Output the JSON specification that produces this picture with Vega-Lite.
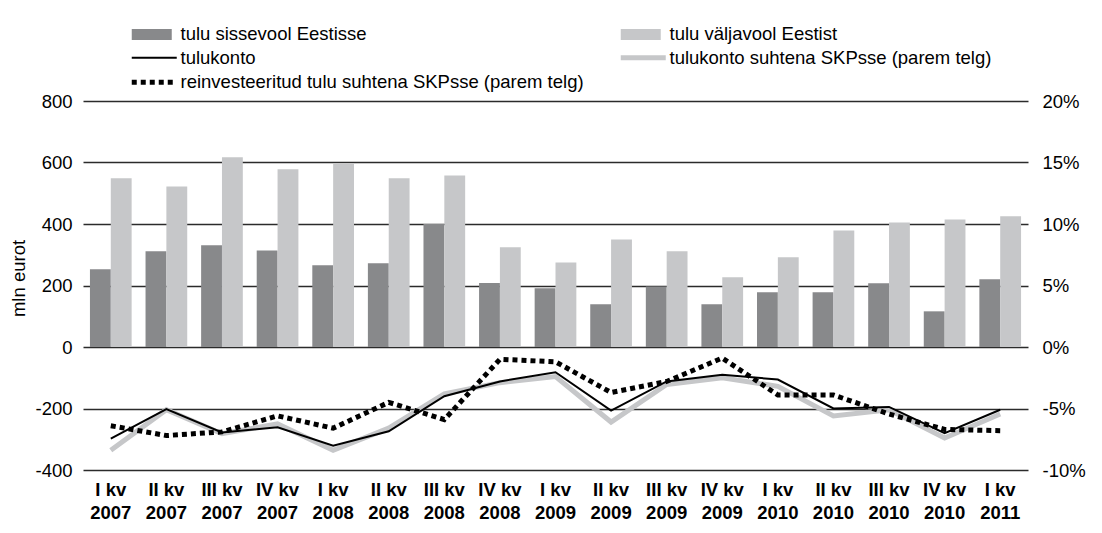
{
  "$schema": "https://vega.github.io/schema/vega-lite/v6.json",
  "autosize": {"type": "none"},
  "width": 945,
  "height": 369,
  "padding": {"left": 83, "top": 101, "right": 74, "bottom": 63},
  "background": "white",
  "config": {
    "view": {"stroke": null},
    "font": "Liberation Sans",
    "axis": {"labelFont": "Liberation Sans", "titleFont": "Liberation Sans", "labelColor": "#000000", "titleColor": "#000000"}
  },
  "data": {
    "values": [
      {"kvartal": "I kv 2007", "sissevool": 253, "valjavool": 549, "tulukonto": -298, "tulukonto_skp": -8.4, "reinv_skp": -6.4},
      {"kvartal": "II kv 2007", "sissevool": 311, "valjavool": 522, "tulukonto": -202, "tulukonto_skp": -5.1, "reinv_skp": -7.2},
      {"kvartal": "III kv 2007", "sissevool": 331, "valjavool": 617, "tulukonto": -278, "tulukonto_skp": -7.05, "reinv_skp": -6.9},
      {"kvartal": "IV kv 2007", "sissevool": 314, "valjavool": 578, "tulukonto": -261, "tulukonto_skp": -6.25, "reinv_skp": -5.6},
      {"kvartal": "I kv 2008", "sissevool": 266, "valjavool": 596, "tulukonto": -321, "tulukonto_skp": -8.4, "reinv_skp": -6.6},
      {"kvartal": "II kv 2008", "sissevool": 272, "valjavool": 549, "tulukonto": -274, "tulukonto_skp": -6.6, "reinv_skp": -4.5},
      {"kvartal": "III kv 2008", "sissevool": 400, "valjavool": 558, "tulukonto": -160, "tulukonto_skp": -3.8, "reinv_skp": -5.9},
      {"kvartal": "IV kv 2008", "sissevool": 208, "valjavool": 324, "tulukonto": -112, "tulukonto_skp": -2.9, "reinv_skp": -1.0},
      {"kvartal": "I kv 2009", "sissevool": 191, "valjavool": 275, "tulukonto": -82, "tulukonto_skp": -2.4, "reinv_skp": -1.2},
      {"kvartal": "II kv 2009", "sissevool": 139, "valjavool": 350, "tulukonto": -207, "tulukonto_skp": -6.1, "reinv_skp": -3.7},
      {"kvartal": "III kv 2009", "sissevool": 197, "valjavool": 311, "tulukonto": -112, "tulukonto_skp": -3.05, "reinv_skp": -2.8},
      {"kvartal": "IV kv 2009", "sissevool": 139, "valjavool": 227, "tulukonto": -90, "tulukonto_skp": -2.5, "reinv_skp": -0.9},
      {"kvartal": "I kv 2010", "sissevool": 178, "valjavool": 292, "tulukonto": -106, "tulukonto_skp": -3.2, "reinv_skp": -3.9},
      {"kvartal": "II kv 2010", "sissevool": 178, "valjavool": 379, "tulukonto": -200, "tulukonto_skp": -5.6, "reinv_skp": -3.9},
      {"kvartal": "III kv 2010", "sissevool": 207, "valjavool": 405, "tulukonto": -195, "tulukonto_skp": -5.1, "reinv_skp": -5.45},
      {"kvartal": "IV kv 2010", "sissevool": 116, "valjavool": 415, "tulukonto": -280, "tulukonto_skp": -7.4, "reinv_skp": -6.7},
      {"kvartal": "I kv 2011", "sissevool": 220, "valjavool": 425, "tulukonto": -204, "tulukonto_skp": -5.45, "reinv_skp": -6.8}
    ]
  },
  "encoding": {
    "x": {
      "field": "kvartal",
      "type": "nominal",
      "sort": null,
      "scale": {"paddingInner": 0.25, "paddingOuter": 0.125},
      "axis": {
        "title": null,
        "domain": false,
        "ticks": false,
        "labelAngle": 0,
        "labelFontSize": 18.5,
        "labelFontWeight": "bold",
        "labelLineHeight": 23,
        "labelBaseline": "top",
        "labelPadding": 10,
        "labelExpr": "[substring(datum.label, 0, length(datum.label) - 5), substring(datum.label, length(datum.label) - 4)]"
      }
    }
  },
  "layer": [
    {
      "transform": [{"fold": ["sissevool", "valjavool"], "as": ["seeria", "vaartus"]}],
      "mark": {"type": "bar"},
      "encoding": {
        "xOffset": {"field": "seeria", "type": "nominal", "scale": {"domain": ["sissevool", "valjavool"], "paddingInner": 0, "paddingOuter": 0}},
        "y": {
          "field": "vaartus",
          "type": "quantitative",
          "scale": {"domain": [-400, 800], "nice": false, "zero": false},
          "axis": {
            "orient": "left",
            "values": [-400, -200, 0, 200, 400, 600, 800],
            "labelExpr": "'' + datum.value",
            "grid": true,
            "gridColor": "#2b2b2b",
            "gridWidth": 1.4,
            "domain": false,
            "ticks": false,
            "labelFontSize": 18.5,
            "labelPadding": 11,
            "title": "mln eurot",
            "titleFontSize": 18.5,
            "titleFontWeight": "normal",
            "titlePadding": 6,
            "titleY": 177
          }
        },
        "color": {
          "field": "seeria",
          "type": "nominal",
          "scale": {
            "domain": ["sissevool", "tulukonto", "reinv_skp", "valjavool", "tulukonto_skp"],
            "range": ["#88898b", "#000000", "#000000", "#c6c7c9", "#c6c7c9"]
          },
          "legend": {
            "orient": "none",
            "legendX": 49,
            "legendY": -76,
            "title": null,
            "columns": 2,
            "columnPadding": 26,
            "rowPadding": 3.5,
            "padding": 0,
            "symbolSize": 100,
            "symbolOffset": 13,
            "labelOffset": 17,
            "labelFont": "Liberation Sans",
            "labelFontSize": 18.5,
            "labelColor": "#000000",
            "labelLimit": 600,
            "labelExpr": "datum.value === 'sissevool' ? 'tulu sissevool Eestisse' : datum.value === 'valjavool' ? 'tulu väljavool Eestist' : datum.value === 'tulukonto' ? 'tulukonto' : datum.value === 'tulukonto_skp' ? 'tulukonto suhtena SKPsse (parem telg)' : 'reinvesteeritud tulu suhtena SKPsse (parem telg)'",
            "encode": {
              "symbols": {
                "update": {
                  "shape": {"signal": "(datum.value === 'sissevool' || datum.value === 'valjavool') ? 'M-4.5,-1.1H3.5V1.1H-4.5Z' : 'M-4.5,0H4.5'"},
                  "fill": {"signal": "datum.value === 'sissevool' ? '#88898b' : datum.value === 'valjavool' ? '#c6c7c9' : 'transparent'"},
                  "stroke": {"signal": "(datum.value === 'tulukonto' || datum.value === 'reinv_skp') ? '#000000' : datum.value === 'tulukonto_skp' ? '#c6c7c9' : 'transparent'"},
                  "strokeWidth": {"signal": "datum.value === 'tulukonto' ? 2 : (datum.value === 'sissevool' || datum.value === 'valjavool') ? 0 : 5"},
                  "strokeDash": {"signal": "datum.value === 'reinv_skp' ? [5, 4] : [1, 0]"},
                  "opacity": {"value": 1}
                }
              }
            }
          }
        }
      }
    },
    {
      "transform": [{"fold": ["tulukonto_skp"], "as": ["seeria", "vaartus"]}],
      "mark": {"type": "line", "strokeWidth": 5, "strokeJoin": "miter"},
      "encoding": {
        "y": {
          "field": "vaartus",
          "type": "quantitative",
          "scale": {"domain": [-10, 20], "nice": false, "zero": false},
          "axis": {
            "orient": "right",
            "values": [-10, -5, 0, 5, 10, 15, 20],
            "labelExpr": "datum.value + '%'",
            "grid": false,
            "domain": false,
            "ticks": false,
            "labelFontSize": 18.5,
            "labelPadding": 14,
            "title": null
          }
        },
        "color": {"field": "seeria", "type": "nominal"}
      }
    },
    {
      "transform": [{"fold": ["tulukonto"], "as": ["seeria", "vaartus"]}],
      "mark": {"type": "line", "strokeWidth": 2, "strokeJoin": "miter"},
      "encoding": {
        "y": {
          "field": "vaartus",
          "type": "quantitative",
          "scale": {"domain": [-400, 800], "nice": false, "zero": false},
          "axis": null
        },
        "color": {"field": "seeria", "type": "nominal"}
      }
    },
    {
      "transform": [{"fold": ["reinv_skp"], "as": ["seeria", "vaartus"]}],
      "mark": {"type": "line", "strokeWidth": 5, "strokeDash": [5, 4], "strokeCap": "butt"},
      "encoding": {
        "y": {
          "field": "vaartus",
          "type": "quantitative",
          "scale": {"domain": [-10, 20], "nice": false, "zero": false},
          "axis": null
        },
        "color": {"field": "seeria", "type": "nominal"}
      }
    }
  ],
  "resolve": {"scale": {"y": "independent"}}
}
